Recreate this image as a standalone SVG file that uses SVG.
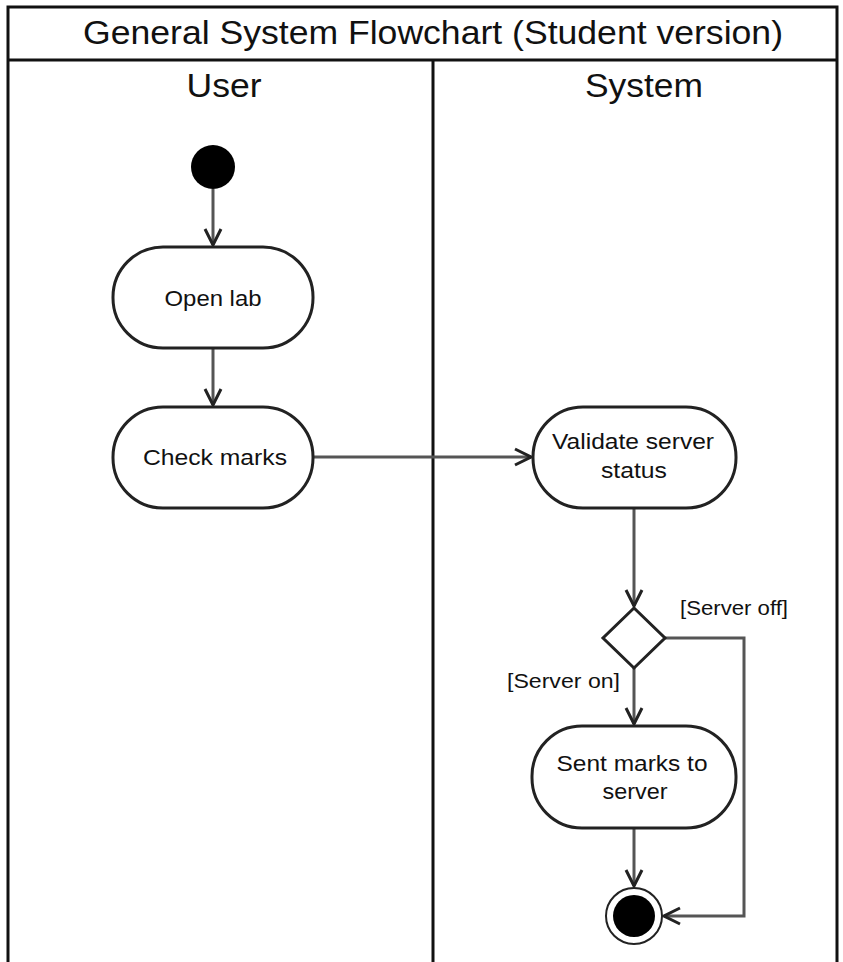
<svg xmlns="http://www.w3.org/2000/svg" width="843" height="962" viewBox="0 0 843 962">
<style>
.lane{fill:none;stroke:#111;stroke-width:3}
.act{fill:#fff;stroke:#222;stroke-width:3}
.t{font-family:"Liberation Sans",Arial,sans-serif;fill:#111;text-anchor:middle}
.hd{font-size:34px}
.nt{font-size:22px}
.lb{font-size:21px;font-family:"Liberation Sans",Arial,sans-serif;fill:#111}
.edge{fill:none;stroke:#555;stroke-width:3}
</style>
<defs>
<marker id="arr" viewBox="0 0 20 20" refX="18" refY="10" markerWidth="20" markerHeight="20" markerUnits="userSpaceOnUse" orient="auto">
<path d="M2,2 L18,10 L2,18" fill="none" stroke="#222" stroke-width="3"/>
</marker>
</defs>
<rect width="843" height="962" fill="#fff"/>
<g id="pool">
<path class="lane" d="M8,965 V7 H837 V965 M8,60 H837 M433,60 V965"/>
<text class="t hd" x="433" y="44" textLength="700" lengthAdjust="spacingAndGlyphs">General System Flowchart (Student version)</text>
<text class="t hd" x="224" y="97" textLength="75" lengthAdjust="spacingAndGlyphs">User</text>
<text class="t hd" x="644" y="97" textLength="118" lengthAdjust="spacingAndGlyphs">System</text>
</g>
<g id="connectors">
<path class="edge" d="M213,189 V245" marker-end="url(#arr)"/>
<path class="edge" d="M213,348 V405" marker-end="url(#arr)"/>
<path class="edge" d="M313,457 H531" marker-end="url(#arr)"/>
<path class="edge" d="M634,508 V606" marker-end="url(#arr)"/>
<path class="edge" d="M634,668 V724" marker-end="url(#arr)"/>
<path class="edge" d="M634,828 V886" marker-end="url(#arr)"/>
<path class="edge" d="M665,638 H744 V916 H664" marker-end="url(#arr)"/>
<text class="lb" x="680" y="615" textLength="108" lengthAdjust="spacingAndGlyphs">[Server off]</text>
<text class="lb" x="507" y="688" textLength="113" lengthAdjust="spacingAndGlyphs">[Server on]</text>
</g>
<g id="start"><circle cx="213" cy="167" r="22" fill="#000"/></g>
<g id="open-lab">
<rect class="act" x="113" y="247" width="200" height="101" rx="50"/>
<text class="t nt" x="213" y="306" textLength="97" lengthAdjust="spacingAndGlyphs">Open lab</text>
</g>
<g id="check-marks">
<rect class="act" x="113" y="407" width="200" height="101" rx="50"/>
<text class="t nt" x="215" y="465" textLength="144" lengthAdjust="spacingAndGlyphs">Check marks</text>
</g>
<g id="validate">
<rect class="act" x="533" y="407" width="203" height="101" rx="50"/>
<text class="t nt" x="633" y="449" textLength="162" lengthAdjust="spacingAndGlyphs">Validate server</text>
<text class="t nt" x="634" y="478" textLength="66" lengthAdjust="spacingAndGlyphs">status</text>
</g>
<g id="decision">
<polygon class="act" points="634,608 665,638 634,668 603,638"/>
</g>
<g id="sent-marks">
<rect class="act" x="532" y="726" width="204" height="102" rx="50"/>
<text class="t nt" x="632" y="771" textLength="151" lengthAdjust="spacingAndGlyphs">Sent marks to</text>
<text class="t nt" x="635" y="799" textLength="65" lengthAdjust="spacingAndGlyphs">server</text>
</g>
<g id="end">
<circle cx="634" cy="916" r="28" fill="#fff" stroke="#222" stroke-width="2"/>
<circle cx="634" cy="916" r="21" fill="#000"/>
</g>
</svg>
